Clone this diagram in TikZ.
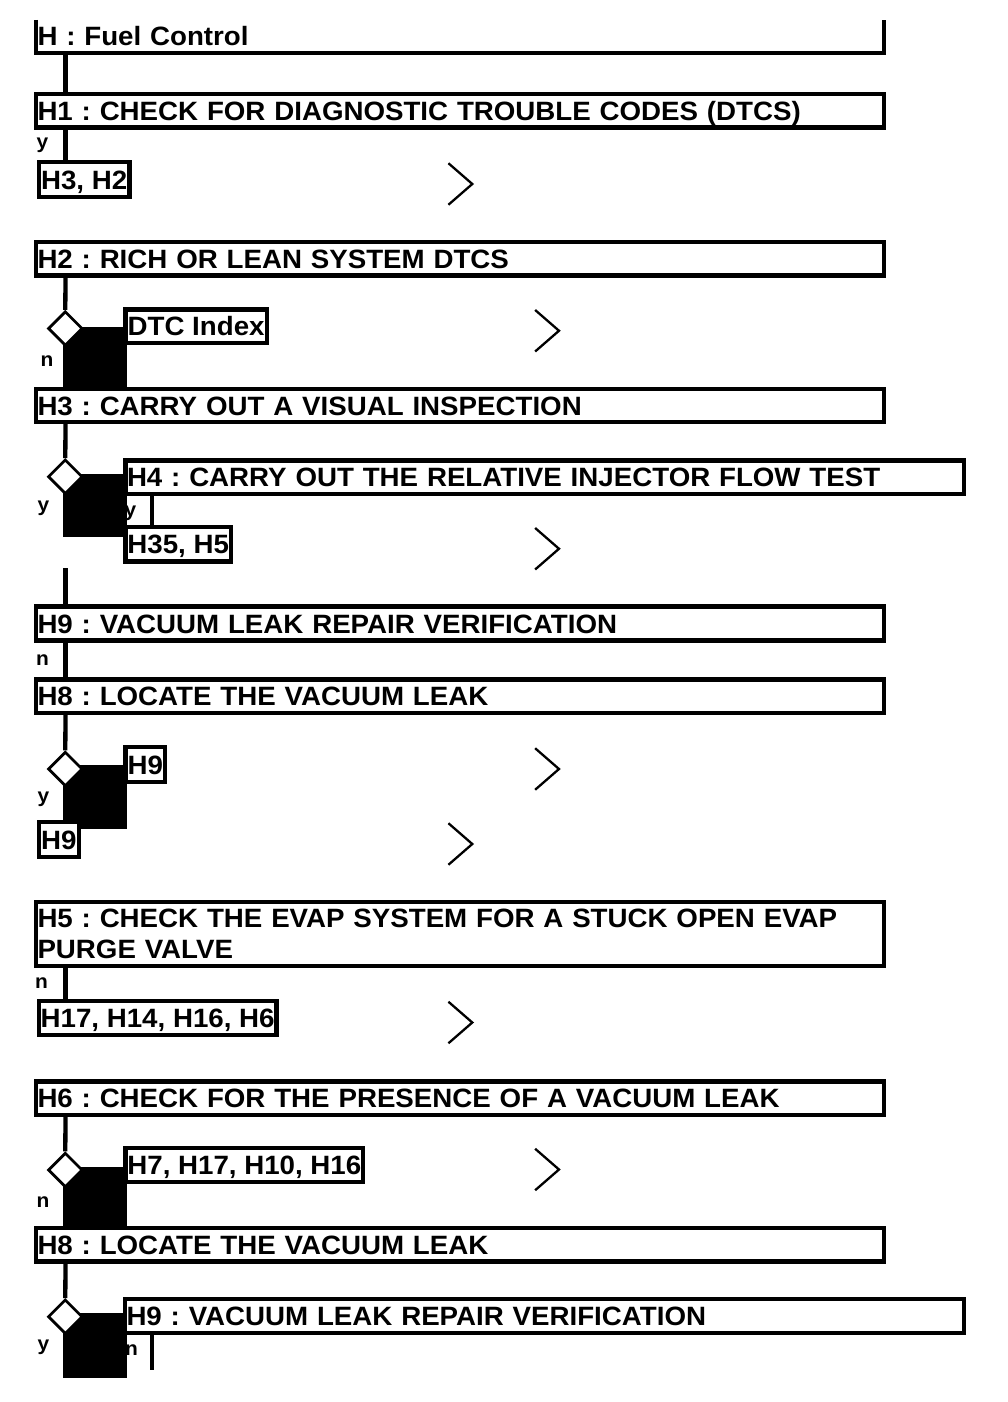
\documentclass[tikz,border=0pt]{standalone}
\usepackage{fontspec}
\newfontfamily\hfam{Liberation Sans}[FakeStretch=1.045]
\usetikzlibrary{shapes.geometric,calc}
\newcommand\hdrfont{\hfam\bfseries\fontsize{26.5}{31.5}\selectfont\frenchspacing}
\newcommand\lblfont{\hfam\bfseries\fontsize{20}{24}\selectfont}
\begin{document}
\begin{tikzpicture}[x=1pt,y=-1pt,
  ln/.style={line width=4.3pt},
  bx/.style={draw, line width=4.3pt, fill=white, anchor=north west, outer sep=0pt,
             inner xsep=1.5pt, inner ysep=0pt, font=\hdrfont, align=left},
  sl/.style={text height=19pt, text depth=0pt},
  dia/.style={diamond, draw, fill=white, line width=2.7pt, minimum width=34.5pt,
              minimum height=34.5pt, inner sep=0pt, aspect=1},
  lbl/.style={font=\lblfont, inner sep=0pt, anchor=base west},
  chev/.style={line width=2.3pt, line cap=rect, line join=miter}]
\useasboundingbox (0,0) rectangle (1008,1402);
\coordinate (sp) at (65.5,0);
\coordinate (vx) at (152,0);

% labels
\node[lbl] (ly1) at (36.5,148.5) {y};
\node[lbl] (ln1) at (40.3,366.7) {n};
\node[lbl] (ly2) at (37.5,511) {y};
\node[lbl] (ly3) at (124.5,516) {y};
\node[lbl] (ln2) at (36,665) {n};
\node[lbl] (ly4) at (37.5,802.5) {y};
\node[lbl] (ln3) at (35,988) {n};
\node[lbl] (ln4) at (36.5,1207) {n};
\node[lbl] (ly5) at (37.5,1350) {y};
\node[lbl] (ln5) at (125,1355) {n};

% black blocks
\fill (63.3,327) rectangle (126.7,389);
\fill (63.3,474) rectangle (126.7,537.3);
\fill (63.3,765) rectangle (126.7,829);
\fill (63.3,1166.7) rectangle (126.7,1228);
\fill (63.3,1313.3) rectangle (126.7,1378.3);

% diamonds
\node[dia] (d1) at (65.3,328.5) {};
\node[dia] (d2) at (65.3,476.7) {};
\node[dia] (d3) at (65.3,769) {};
\node[dia] (d4) at (65.3,1170) {};
\node[dia] (d5) at (65.3,1316.7) {};

% boxes
\node[bx, sl, draw=none, fill=none, text width=845pt, minimum height=33pt] (h0) at (36,20) {H : Fuel Control};
\draw[ln] (h0.north west) -- (h0.south west) -- (h0.south east) -- (h0.north east);
\node[bx, sl, text width=845pt, minimum height=33.5pt] (h1) at (36,94) {H1 : CHECK FOR DIAGNOSTIC TROUBLE CODES (DTCS)};
\node[bx, sl, minimum width=90.7pt, minimum height=35pt] (b1) at (38.8,162) {H3, H2};
\node[bx, sl, text width=845pt, minimum height=33.5pt] (h2) at (36,242) {H2 : RICH OR LEAN SYSTEM DTCS};
\node[bx, sl, minimum width=141.2pt, minimum height=33.5pt] (dtc) at (125.5,309.5) {DTC Index};
\node[bx, sl, text width=845pt, minimum height=33pt] (h3) at (36,389) {H3 : CARRY OUT A VISUAL INSPECTION};
\node[bx, sl, text width=835.5pt, minimum height=33.5pt] (h4) at (125.5,460.5) {H4 : CARRY OUT THE RELATIVE INJECTOR FLOW TEST};
\node[bx, sl, minimum width=105.5pt, minimum height=34.5pt] (b35) at (125.5,527) {H35, H5};
\node[bx, sl, text width=845pt, minimum height=34pt] (h9a) at (36,606.5) {H9 : VACUUM LEAK REPAIR VERIFICATION};
\node[bx, sl, text width=845pt, minimum height=33.5pt] (h8a) at (36,679.5) {H8 : LOCATE THE VACUUM LEAK};
\node[bx, sl, minimum width=39.5pt, minimum height=35pt] (b9a) at (125.5,747) {H9};
\node[bx, sl, minimum width=40pt, minimum height=35pt] (b9b) at (38.8,822) {H9};
\node[bx, text width=845pt, minimum height=64pt] (h5) at (36,902) {H5 : CHECK THE EVAP SYSTEM FOR A STUCK OPEN EVAP\\PURGE VALVE};
\node[bx, sl, minimum width=237.7pt, minimum height=34pt] (b17) at (38.8,1001) {H17, H14, H16, H6};
\node[bx, sl, text width=845pt, minimum height=33.5pt] (h6) at (36,1081.5) {H6 : CHECK FOR THE PRESENCE OF A VACUUM LEAK};
\node[bx, sl, minimum width=237.7pt, minimum height=34pt] (b7) at (125.5,1148) {H7, H17, H10, H16};
\node[bx, sl, text width=845pt, minimum height=33.5pt] (h8b) at (36,1228) {H8 : LOCATE THE VACUUM LEAK};
\node[bx, sl, text width=836pt, minimum height=34pt] (h9b) at (125,1299) {H9 : VACUUM LEAK REPAIR VERIFICATION};

% connectors
\coordinate (c1) at (65.5,568.3);
\coordinate (c2) at (152,1370);
\draw[ln] (h0.south -| sp) -- (h1.north -| sp);
\draw[ln] (h1.south -| sp) -- (b1.north -| sp);
\draw[ln] (h2.south -| sp) -- (d1.north);
\draw[ln] (h3.south -| sp) -- (d2.north);
\draw[ln] (c1) -- (h9a.north -| sp);
\draw[ln] (h9a.south -| sp) -- (h8a.north -| sp);
\draw[ln] (h8a.south -| sp) -- (d3.north);
\draw[ln] (h5.south -| sp) -- (b17.north -| sp);
\draw[ln] (h6.south -| sp) -- (d4.north);
\draw[ln] (h8b.south -| sp) -- (d5.north);
\draw[ln] (h4.south -| vx) -- (b35.north -| vx);
\draw[ln] (h9b.south -| vx) -- (c2);

% chevrons
\foreach \b in {b1,dtc,b35,b9a,b9b,b17,b7}{
  \draw[chev] ($(\b.west)+(410.5,-15.5)$) -- ++(23,20) -- ++(-23,20);
}
\end{tikzpicture}
\end{document}
